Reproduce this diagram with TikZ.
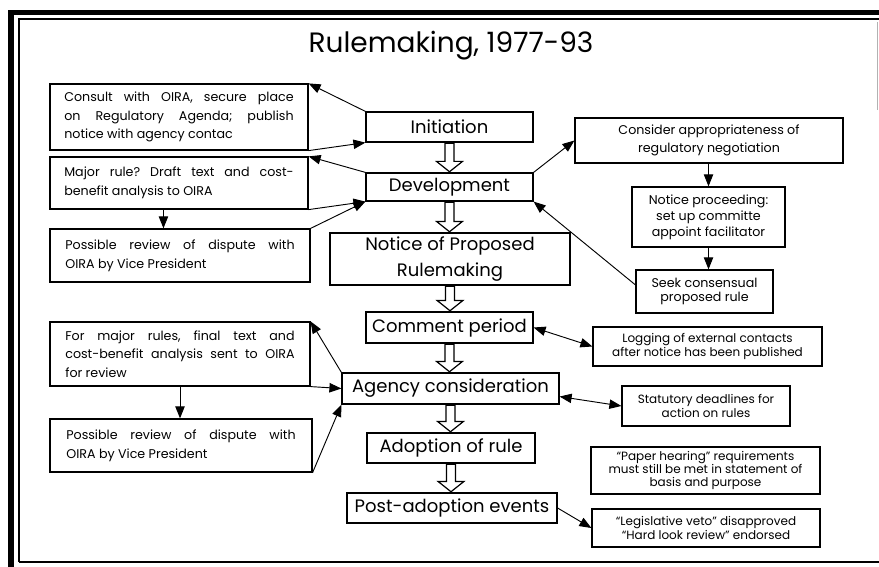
\documentclass[tikz,border=0pt]{standalone}
\usepackage{fontspec}
\setmainfont{Poppins}
\usetikzlibrary{arrows.meta,calc}
\frenchspacing
\newcommand\jl[1]{\makebox[\hsize][s]{#1}\\}
\newcommand\hdown[2]{\draw[hollow] let \p1=(#1.south), \p2=(#2.north) in
  (\x1-3.4pt,\y1-0.5pt) -- (\x1-3.4pt,\y2+8.25pt) -- (\x1-9.75pt,\y2+8.25pt) --
  (\x1,\y2+0.5pt) -- (\x1+9.75pt,\y2+8.25pt) -- (\x1+3.4pt,\y2+8.25pt) --
  (\x1+3.4pt,\y1-0.5pt) -- cycle;}
\begin{document}
\begin{tikzpicture}[x=0.75pt,y=-0.75pt,
  bx/.style 2 args={minimum width={#1*0.75pt},minimum height={#2*0.75pt}},
  box/.style={draw,line width=0.9pt,inner sep=0pt,anchor=center},
  cbox/.style={box,align=center,font=\fontsize{13.5}{20}\selectfont},
  lbox/.style={box,text width=172pt,align=justify,font=\fontsize{9.5}{14}\selectfont},
  rbox/.style={box,align=center},
  arr/.style={line width=0.7pt,-{Triangle[length=9pt,width=7pt]}},
  darr/.style={line width=0.7pt,{Triangle[length=9pt,width=7pt]}-{Triangle[length=9pt,width=7pt]}},
  hollow/.style={draw,line width=0.9pt,fill=white,line join=miter},
  frame/.style={line width=#1}]
\useasboundingbox (0,0) rectangle (879,567);
% frame
\draw[frame=4pt] (11,567) -- (11,12.5) -- (879,12.5);
\draw[frame=0.8pt] (19,562) -- (19,19) -- (879,19);
\draw[frame=0.8pt] (19,562) -- (879,562);
\draw[gray!60,line width=0.4pt] (877.5,22) -- (877.5,110);
% title
\node[font=\fontsize{21}{25}\selectfont] (title) at (451,46) {Rulemaking, 1977-93};
% centre column
\node[cbox,bx={167}{30}] (init) at (449.5,127) {Initiation};
\node[cbox,bx={167}{28}] (dev) at (449.5,187) {Development};
\node[cbox,bx={240}{52}] (npr) at (450,259) {Notice of Proposed\\Rulemaking};
\node[cbox,bx={167}{31}] (comm) at (449.5,327.5) {Comment period};
\node[cbox,bx={217}{31}] (agcy) at (450.5,388.5) {Agency consideration};
\node[cbox,bx={168}{30}] (adop) at (451,448) {Adoption of rule};
\node[cbox,bx={210}{30}] (post) at (452,508) {Post-adoption events};
\hdown{init}{dev}
\hdown{dev}{npr}
\hdown{npr}{comm}
\hdown{comm}{agcy}
\hdown{agcy}{adop}
\hdown{adop}{post}
% left boxes
\node[lbox,bx={258}{66}] (l1) at (179,117) {\jl{Consult with OIRA, secure place}\jl{on Regulatory Agenda; publish}notice with agency contac};
\node[lbox,bx={258}{52}] (l2) at (179,183) {\jl{Major rule? Draft text and cost-}benefit analysis to OIRA};
\node[lbox,bx={260}{53}] (l3) at (180,255.5) {\jl{Possible review of dispute with}OIRA by Vice President};
\node[lbox,bx={260}{64}] (l4) at (180,354) {\jl{For major rules, final text and}\jl{cost-benefit analysis sent to OIRA}for review};
\node[lbox,bx={262}{53}] (l5) at (181,445.5) {\jl{Possible review of dispute with}OIRA by Vice President};
% right boxes
\node[rbox,bx={268}{45},font=\fontsize{9.5}{14}\selectfont] (r1) at (709,140.5) {Consider appropriateness of\\regulatory negotiation};
\node[rbox,bx={153}{60},font=\fontsize{9.5}{12}\selectfont] (r2) at (708.5,217) {Notice proceeding:\\set up committe\\appoint facilitator};
\node[rbox,bx={137}{43},font=\fontsize{9.5}{11}\selectfont] (r3) at (704.5,291.5) {Seek consensual\\proposed rule};
\node[rbox,bx={229}{39},font=\fontsize{9}{10}\selectfont] (r4) at (707.5,346.5) {Logging of external contacts\\after notice has been published};
\node[rbox,bx={168}{40},font=\fontsize{9}{10.5}\selectfont] (r5) at (706,406) {Statutory deadlines for\\action on rules};
\node[rbox,bx={229}{47},font=\fontsize{9}{10}\selectfont] (r6) at (705.5,470.5) {``Paper hearing'' requirements\\must still be met in statement of\\basis and purpose};
\node[rbox,bx={228}{38},font=\fontsize{9}{11}\selectfont] (r7) at (706,528) {``Legislative veto'' disapproved\\``Hard look review'' endorsed};
% connectors left upper
\draw[arr] (init.north west) -- (l1.north east);
\draw[arr] (l1.south east) -- (init.south west);
\draw[arr] (dev.north west) -- (l2.north east);
\draw[arr] (l2.south east) -- (dev.south west);
\draw[arr] (l3.north east) -- (dev.south west);
\coordinate (l2s) at ($(l2.south west)!0.44!(l2.south east)$);
\draw[arr] (l2s) -- (l2s |- l3.north);
% connectors right upper
\draw[arr] (dev.north east) -- (r1.west);
\draw[arr] (r2.north |- r1.south) -- (r2.north);
\draw[arr] (r2.south) -- (r2.south |- r3.north);
\coordinate (r3w) at ($(r3.north west)!0.35!(r3.south west)$);
\draw[arr] (r3w) -- (dev.south east);
% right lower
\draw[darr] (comm.east) -- (r4.west);
\coordinate (agse) at ($(agcy.east)!0.5!(agcy.south east)$);
\draw[darr] (agse) -- (r5.west);
\draw[arr] (post.east) -- (r7.west);
% left lower
\draw[arr] (agcy.north west) -- (l4.north east);
\draw[arr] (l4.south east) -- (agcy.west);
\draw[arr] (l5.south east) -- (agcy.south west);
\draw[arr] (l4.south) -- (l4.south |- l5.north);
\end{tikzpicture}
\end{document}
